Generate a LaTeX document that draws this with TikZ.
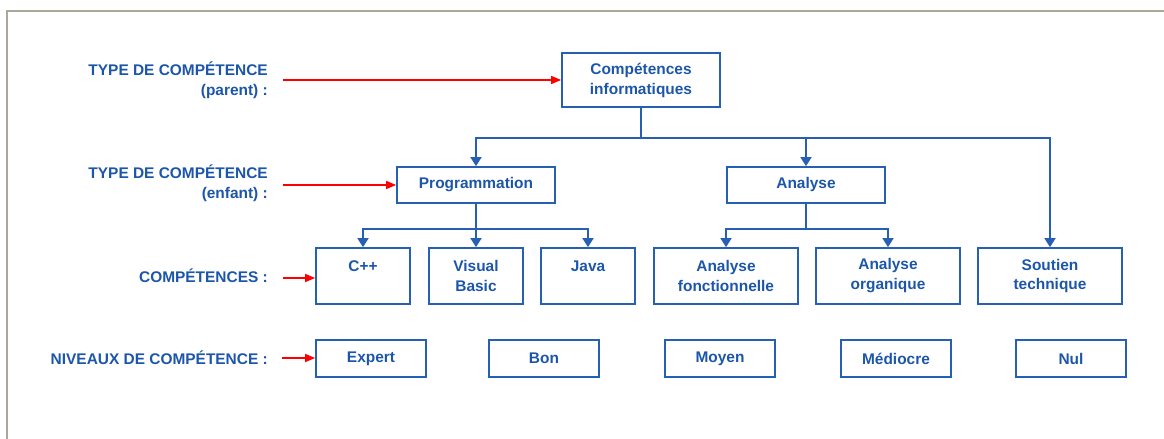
\documentclass[tikz,border=0pt]{standalone}
\usepackage{fontspec}
\setmainfont{Liberation Sans}
\usepackage{tikz}
\usetikzlibrary{arrows.meta, positioning}
\definecolor{orgblue}{RGB}{38,96,178}
\definecolor{txtblue}{RGB}{28,86,170}
\definecolor{frame}{RGB}{172,168,153}

\begin{document}
\begin{tikzpicture}[
    x=1bp, y=-1bp,
    font=\fontsize{15.5}{20}\selectfont\bfseries,
    box/.style={rectangle, draw=orgblue, line width=1.7bp, text=txtblue, align=center, inner sep=0pt},
    lvl/.style={box, minimum width=110bp, minimum height=37bp},
    skill/.style={box, minimum width=94bp, minimum height=56bp},
    wskill/.style={skill, minimum width=144bp},
    tag/.style={text=txtblue, align=right, anchor=east, inner sep=0pt},
    arr/.style={-{Triangle[length=9bp, width=11bp]}, orgblue, line width=1.7bp},
    redarr/.style={-{Triangle[length=10bp, width=8bp]}, red, line width=1.4bp}
]
\useasboundingbox (0,0) rectangle (1164,439);

% Window frame
\draw[frame, line width=1.5bp] (7,439) -- (7,11) -- (1164,11);

% Left labels
\node[tag] (lparent) at (268,80) {TYPE DE COMPÉTENCE\\(parent) :};
\node[tag] (lchild) at (268,183) {TYPE DE COMPÉTENCE\\(enfant) :};
\node[tag] (lskill) at (268,276) {COMPÉTENCES :};
\node[tag] (llevel) at (268,358) {NIVEAUX DE COMPÉTENCE :};

% Types
\node[box, minimum width=158bp, minimum height=54bp] (info) at (641,80) {Compétences\\informatiques};
\node[box, minimum width=158bp, minimum height=36bp] (prog) at (476,185) {Programmation};
\node[box, minimum width=158bp, minimum height=36bp] (ana) at (806,185) {Analyse};

% Competences
\node[skill] (cpp) at (363,276) {C++\\~};
\node[skill] (vb) at (476,276) {Visual\\Basic};
\node[skill] (java) at (588,276) {Java\\~};
\node[wskill] (afonc) at (726,276) {Analyse\\fonctionnelle};
\node[wskill] (aorg) at (888,276) {Analyse\\organique};
\node[wskill] (sout) at (1050,276) {Soutien\\technique};

% Levels
\node[lvl] (expert) at (371,358.5) {Expert};
\node[lvl] (bon) at (544,358.5) {Bon};
\node[lvl] (moyen) at (720,358.5) {Moyen};
\node[lvl] (medio) at (896,358.5) {Médiocre};
\node[lvl] (nul) at (1071,358.5) {Nul};

% Tree
\draw[arr] (info.south) -- ++(0,30) -| (prog.north);
\draw[arr] (info.south) -- ++(0,30) -| (ana.north);
\draw[arr] (info.south) -- ++(0,30) -| (sout.north);
\draw[arr] (prog.south) -- ++(0,25) -| (cpp.north);
\draw[arr] (prog.south) -- (vb.north);
\draw[arr] (prog.south) -- ++(0,25) -| (java.north);
\draw[arr] (ana.south) -- ++(0,25) -| (afonc.north);
\draw[arr] (ana.south) -- ++(0,25) -| (aorg.north);

% Red pointers
\coordinate (pparent) at (283,80);
\coordinate (pchild) at (283,185);
\coordinate (pskill) at (283,278);
\coordinate (plevel) at (282,358);
\draw[redarr] (pparent) -- (info.west);
\draw[redarr] (pchild) -- (prog.west);
\draw[redarr] (pskill) -- (pskill -| cpp.west);
\draw[redarr] (plevel) -- (plevel -| expert.west);
\end{tikzpicture}
\end{document}
